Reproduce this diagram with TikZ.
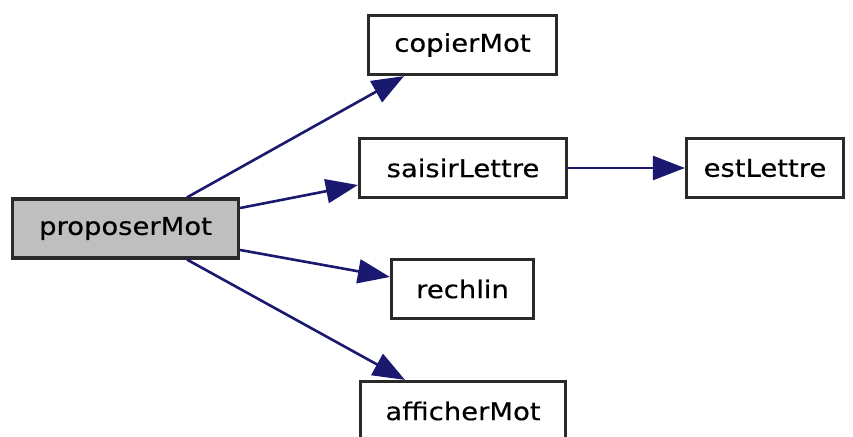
\documentclass[tikz,border=0pt]{standalone}
\usepackage{fontspec}
\setmainfont{DejaVu Sans}
\newfontfamily\lblfont[BoldFont={DejaVu Sans},BoldFeatures={FakeBold=0.35}]{DejaVu Sans}
\usetikzlibrary{arrows.meta}
\definecolor{edgeblue}{HTML}{191970}
\definecolor{boxgray}{HTML}{BFBFBF}
\definecolor{boxline}{HTML}{2A2A2A}
\tikzset{
  fn/.style={draw=boxline, line width=3.2pt, fill=white, inner sep=0pt,
    minimum height=59pt, font=\lblfont\bfseries\fontsize{24.5}{28}\selectfont},
  fncur/.style={fn, fill=boxgray},
  call/.style={draw=edgeblue, line width=2.6pt,
    -{Triangle[length=32pt, width=24pt]}, edgeblue},
}
\newcommand{\lbl}[1]{\scalebox{1.12}[1]{#1}}
\begin{document}
\begin{tikzpicture}[x=1pt, y=-1pt]
  \useasboundingbox (0,0) rectangle (853,436);
  \clip (0,0) rectangle (853,436);
  \fill[white] (0,0) rectangle (853,436);

  % function boxes
  \node[fncur, minimum width=226pt] (pm) at (125.5,228.5) {\lbl{proposerMot}};
  \node[fn, minimum width=188pt] (cm) at (462.5,45) {\lbl{copierMot}};
  \node[fn, minimum width=207pt] (sl) at (463,168) {\lbl{saisirLettre}};
  \node[fn, minimum width=157pt] (el) at (765,168) {\lbl{estLettre}};
  \node[fn, minimum width=142pt] (rl) at (462.5,289) {\lbl{rechlin}};
  \node[fn, minimum width=205pt] (am) at (463,411) {\lbl{afficherMot}};

  % call edges
  \draw[call] ([xshift=61.5pt]pm.north) -- ([xshift=-58.5pt]cm.south);
  \draw[call] ([yshift=20.5pt]pm.east) -- ([yshift=-17pt]sl.west);
  \draw[call] ([yshift=-21.5pt]pm.east) -- ([yshift=12pt]rl.west);
  \draw[call] ([xshift=61.5pt]pm.south) -- ([xshift=-58pt]am.north);
  \draw[call] (sl.east) -- (el.west);
\end{tikzpicture}
\end{document}
